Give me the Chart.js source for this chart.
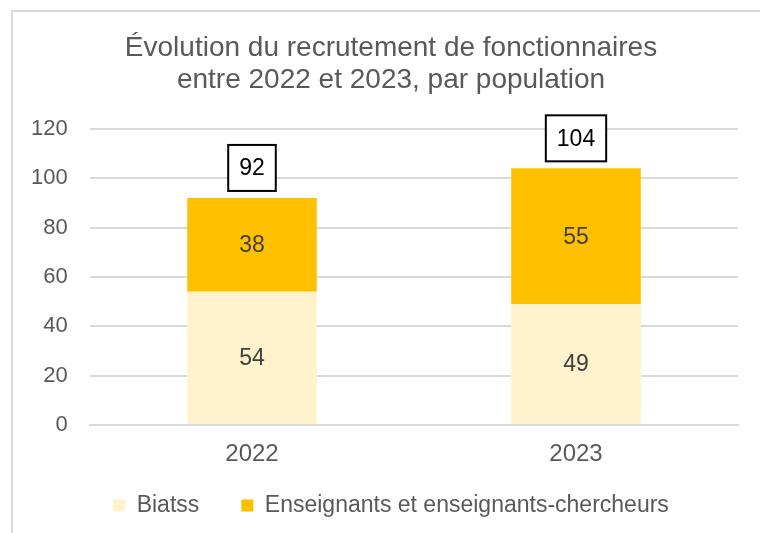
<!DOCTYPE html>
<html lang="fr">
<head>
<meta charset="utf-8">
<script src="https://cdn.jsdelivr.net/npm/chart.js@4"></script>
<style>
  html, body { margin: 0; padding: 0; background: #fff; }
  #cadre { position: relative; width: 760px; height: 533px; }
  #bord { position: absolute; left: 11px; top: 10px; right: 0; bottom: 0;
          border-top: 2px solid #d9d9d9; border-left: 2px solid #d9d9d9; }
  canvas { position: absolute; left: 0; top: 0; }
</style>
</head>
<body>
<div id="cadre">
  <div id="bord"></div>
  <canvas id="graphique" width="760" height="533"></canvas>
</div>
<script>
// données
const annees = ['2022', '2023'];
const biatss = [54, 49];
const enseignants = [38, 55];
const graduations = [0, 20, 40, 60, 80, 100, 120];

const totaux = annees.map((a, i) => biatss[i] + enseignants[i]);

const FONTE = "'Liberation Sans', Arial, sans-serif";

// étiquettes des segments + total encadré
const etiquettes = {
    id: 'etiquettes',
    afterDatasetsDraw(chart) {
        const ctx = chart.ctx;
        ctx.save();
        ctx.textAlign = 'center';
        ctx.textBaseline = 'middle';
        ctx.font = "23px " + FONTE;
        ctx.fillStyle = '#404040';
        chart.data.datasets.forEach((ds, d) => {
            chart.getDatasetMeta(d).data.forEach((bar, i) => {
                ctx.fillText(String(ds.data[i]), bar.x, (bar.y + bar.base) / 2 + 1);
            });
        });

        const y = chart.scales.y;
        const meta = chart.getDatasetMeta(0);
        totaux.forEach((t, i) => {
            const x = meta.data[i].x;
            const haut = y.getPixelForValue(t);
            const txt = String(t);
            const w = ctx.measureText(txt).width + 22;
            const h = 46;
            const cy = haut - 7 - h / 2;
            ctx.fillStyle = '#fff';
            ctx.fillRect(x - w / 2, cy - h / 2, w, h);
            ctx.strokeStyle = '#000';
            ctx.lineWidth = 2;
            ctx.strokeRect(x - w / 2, cy - h / 2, w, h);
            ctx.fillStyle = '#000';
            ctx.fillText(txt, x, cy + 1);
        });
        ctx.restore();
    }
};

new Chart(document.getElementById('graphique'), {
    type: 'bar',
    data: {
        labels: annees,
        datasets: [
            { label: 'Biatss', data: biatss, backgroundColor: '#FFF2CC', barPercentage: 0.4, categoryPercentage: 1 },
            { label: 'Enseignants et enseignants-chercheurs', data: enseignants, backgroundColor: '#FFC000', barPercentage: 0.4, categoryPercentage: 1 }
        ]
    },
    options: {
        responsive: false,
        animation: false,
        layout: { padding: { left: 44, right: 22, top: 0, bottom: 6 } },
        plugins: {
            title: {
                display: true,
                text: ['Évolution du recrutement de fonctionnaires', 'entre 2022 et 2023, par population'],
                color: '#595959',
                font: { family: FONTE, size: 28, weight: 'normal', lineHeight: 1.14 },
                padding: { top: 32, bottom: 33 }
            },
            legend: {
                position: 'bottom',
                labels: {
                    color: '#595959',
                    font: { family: FONTE, size: 23 },
                    boxWidth: 12,
                    boxHeight: 12,
                    padding: 42
                }
            },
            tooltip: { enabled: false }
        },
        scales: {
            x: {
                stacked: true,
                grid: { display: false },
                border: { display: true, color: '#d9d9d9', width: 2 },
                afterFit(scale) { scale.height = 27; },
                ticks: { color: '#595959', font: { family: FONTE, size: 24 }, mirror: true, padding: -44 }
            },
            y: {
                stacked: true,
                min: 0,
                max: 120,
                afterFit(scale) { scale.width = 46; },
                afterBuildTicks(scale) { scale.ticks = graduations.map(v => ({ value: v })); },
                grid: { color: '#d9d9d9', lineWidth: 2, drawTicks: false },
                border: { display: false },
                ticks: { color: '#595959', font: { family: FONTE, size: 22 }, mirror: true, crossAlign: 'far', padding: -59 }
            }
        }
    },
    plugins: [etiquettes]
});
</script>
</body>
</html>
